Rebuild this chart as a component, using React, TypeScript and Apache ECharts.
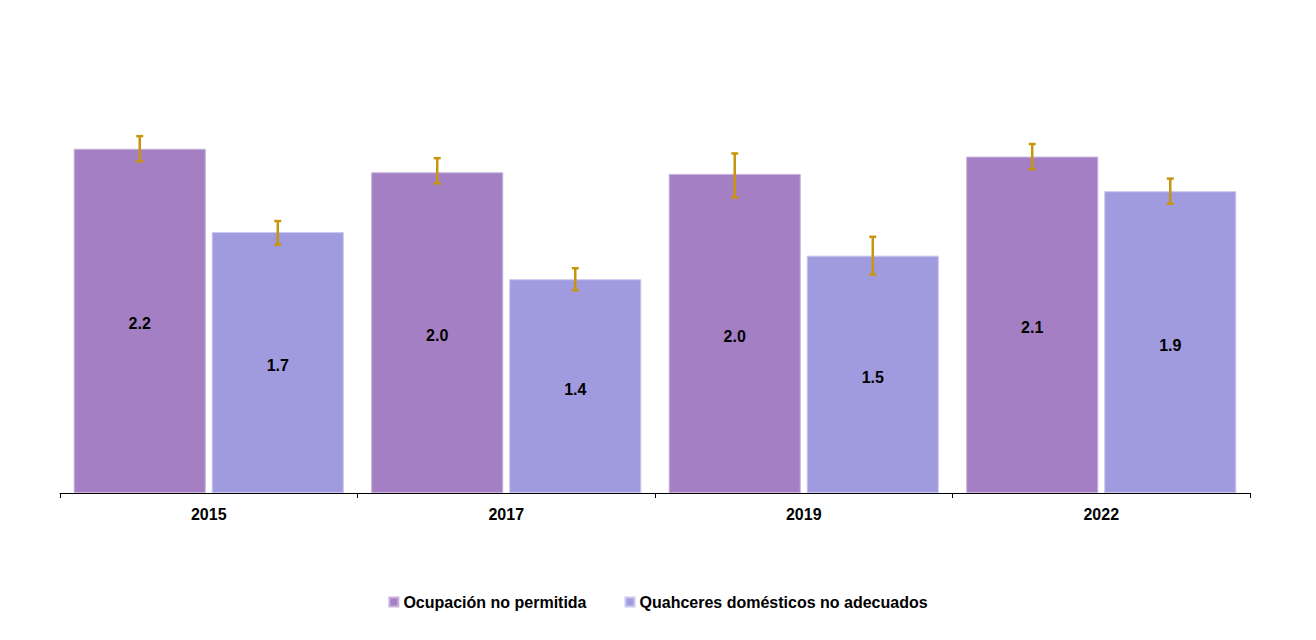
import React, { useEffect, useRef } from "react";
import * as echarts from "echarts";

const categories = ["2015", "2017", "2019", "2022"];
const seriesNames = ["Ocupación no permitida", "Quahceres domésticos no adecuados"];
const ocupacion = [2.19, 2.04, 2.03, 2.14];
const quehaceres = [1.66, 1.36, 1.51, 1.92];
const ocupacionLow = [2.11, 1.97, 1.88, 2.06];
const ocupacionHigh = [2.27, 2.13, 2.16, 2.22];
const quehaceresLow = [1.58, 1.29, 1.39, 1.84];
const quehaceresHigh = [1.73, 1.43, 1.63, 2.0];

const COLORS = ["#A57FC3", "#A09BDF"];
const ERR = "#C8960C";
const CAT_GAP = 0.092;
const BAR_GAP = 0.045;

function errorSeries(idx: number, low: number[], high: number[]) {
  return {
    type: "custom",
    silent: true,
    z: 10,
    data: categories.map((c, i) => [i, low[i], high[i]]),
    encode: { x: 0, y: [1, 2] },
    renderItem: (params: any, api: any) => {
      const xi = api.value(0);
      const lo = api.coord([xi, api.value(1)]);
      const hi = api.coord([xi, api.value(2)]);
      const band = api.size([1, 0])[0];
      const barW = (band * (1 - CAT_GAP)) / (2 + BAR_GAP);
      const off = (idx === 0 ? -1 : 1) * (barW / 2 + (barW * BAR_GAP) / 2);
      const x = lo[0] + off;
      const cap = 3.5;
      const style = { stroke: ERR, lineWidth: 2.5 };
      return {
        type: "group",
        children: [
          { type: "line", shape: { x1: x, y1: lo[1], x2: x, y2: hi[1] }, style },
          { type: "line", shape: { x1: x - cap, y1: lo[1], x2: x + cap, y2: lo[1] }, style },
          { type: "line", shape: { x1: x - cap, y1: hi[1], x2: x + cap, y2: hi[1] }, style },
        ],
      };
    },
  };
}

export default function App() {
  const ref = useRef<HTMLDivElement>(null);
  useEffect(() => {
    if (!ref.current) return;
    const chart = echarts.init(ref.current, undefined, { renderer: "svg" });
    const font = "Arial, 'Liberation Sans', sans-serif";
    const label = {
      show: true,
      position: "inside",
      offset: [0, 3],
      color: "#000",
      fontWeight: "bold",
      fontSize: 16,
      fontFamily: font,
      formatter: (p: any) => Number(p.value).toFixed(1),
    };
    chart.setOption({
      animation: false,
      textStyle: { fontFamily: font },
      grid: { left: 52, right: 58, top: 92, bottom: 139 },
      legend: {
        bottom: 17,
        left: "center",
        icon: "rect",
        itemWidth: 9,
        itemHeight: 9,
        itemGap: 38,
        data: seriesNames,
        textStyle: { fontWeight: "bold", fontSize: 16, color: "#000", fontFamily: font },
      },
      xAxis: {
        type: "category",
        data: categories,
        axisLine: { lineStyle: { color: "#000", width: 1 } },
        axisTick: { show: true, length: 5, lineStyle: { color: "#000" } },
        axisLabel: { color: "#000", fontWeight: "bold", fontSize: 16, margin: 13, fontFamily: font },
      },
      yAxis: {
        type: "value",
        min: 0,
        max: 2.5,
        show: false,
        splitLine: { show: false },
      },
      series: [
        {
          name: seriesNames[0],
          type: "bar",
          data: ocupacion,
          barCategoryGap: CAT_GAP * 100 + "%",
          barGap: BAR_GAP * 100 + "%",
          itemStyle: { color: COLORS[0], borderColor: "#C9B3DD", borderWidth: 1 },
          label,
        },
        {
          name: seriesNames[1],
          type: "bar",
          data: quehaceres,
          barCategoryGap: CAT_GAP * 100 + "%",
          barGap: BAR_GAP * 100 + "%",
          itemStyle: { color: COLORS[1], borderColor: "#CBC7EE", borderWidth: 1 },
          label,
        },
        errorSeries(0, ocupacionLow, ocupacionHigh),
        errorSeries(1, quehaceresLow, quehaceresHigh),
      ],
    });
    return () => chart.dispose();
  }, []);
  return <div ref={ref} style={{ width: 1300, height: 624 }} />;
}
